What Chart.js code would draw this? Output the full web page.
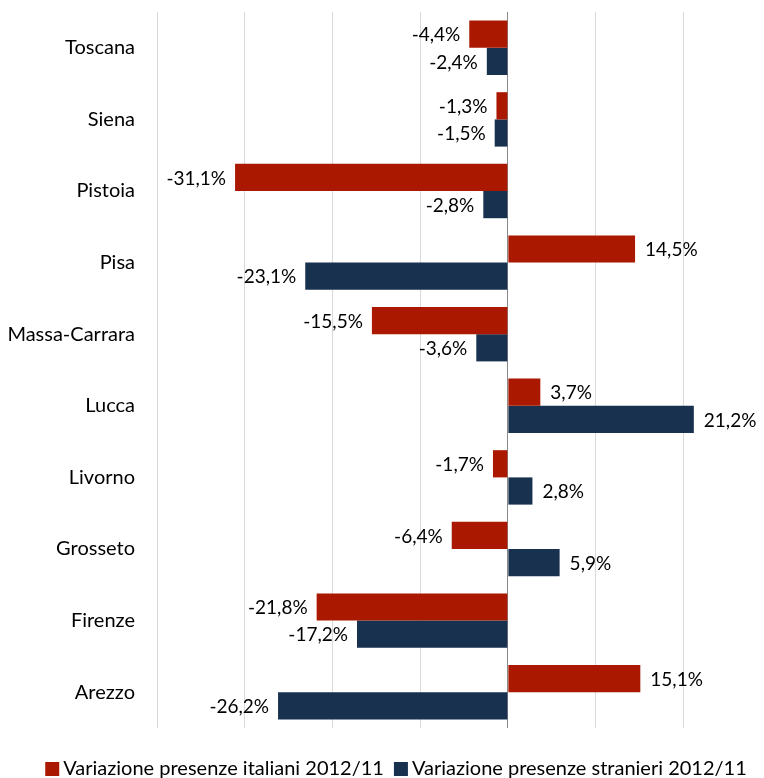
<!DOCTYPE html>
<html>
<head>
<meta charset="utf-8">
<script src="https://cdn.jsdelivr.net/npm/chart.js@4/dist/chart.umd.min.js"></script>
<style>
  html, body { margin: 0; padding: 0; background: #ffffff; }
  #wrap { width: 764px; height: 778px; }
</style>
</head>
<body>
<div id="wrap"><canvas id="c" width="764" height="778"></canvas></div>
<script>
// Province labels, top to bottom
const provinces = ['Toscana', 'Siena', 'Pistoia', 'Pisa', 'Massa-Carrara', 'Lucca', 'Livorno', 'Grosseto', 'Firenze', 'Arezzo'];
// Percentage change in arrivals, 2012 vs 2011
const italiani  = [-4.4, -1.3, -31.1, 14.5, -15.5, 3.7, -1.7, -6.4, -21.8, 15.1];
const stranieri = [-2.4, -1.5, -2.8, -23.1, -3.6, 21.2, 2.8, 5.9, -17.2, -26.2];
const seriesNames = ['Variazione presenze italiani 2012/11', 'Variazione presenze stranieri 2012/11'];

const FONT = 'Lato, "Open Sans", sans-serif';
const fmt = v => v.toFixed(1).replace('.', ',') + '%';

// Writes each bar's value just past its end
const valueLabels = {
  id: 'valueLabels',
  afterDatasetsDraw(chart) {
    const ctx = chart.ctx;
    ctx.save();
    ctx.font = '19px ' + FONT;
    ctx.fillStyle = '#000000';
    ctx.textBaseline = 'middle';
    chart.data.datasets.forEach((ds, i) => {
      chart.getDatasetMeta(i).data.forEach((bar, j) => {
        const v = ds.data[j];
        if (v < 0) {
          ctx.textAlign = 'right';
          ctx.fillText(fmt(v), bar.x - 9, bar.y + 1);
        } else {
          ctx.textAlign = 'left';
          ctx.fillText(fmt(v), bar.x + 10, bar.y + 1);
        }
      });
    });
    ctx.restore();
  }
};

// Compact legend row under the plot
const bottomLegend = {
  id: 'bottomLegend',
  afterDraw(chart) {
    const ctx = chart.ctx;
    const box = 14, gapText = 4, gapItem = 10;
    const yMid = 768, shift = 14;
    ctx.save();
    ctx.font = '20px ' + FONT;
    ctx.textBaseline = 'middle';
    ctx.textAlign = 'left';
    const items = chart.data.datasets.map(ds => ({
      text: ds.label, color: ds.backgroundColor, w: ctx.measureText(ds.label).width
    }));
    const total = items.reduce((s, it) => s + box + gapText + it.w, 0) + gapItem * (items.length - 1);
    let x = (chart.width - total) / 2 + shift;
    items.forEach(it => {
      ctx.fillStyle = it.color;
      ctx.fillRect(x, yMid - 6, box, box);
      x += box + gapText;
      ctx.fillStyle = '#000000';
      ctx.fillText(it.text, x, yMid + 1);
      x += it.w + gapItem;
    });
    ctx.restore();
  }
};

new Chart(document.getElementById('c'), {
  type: 'bar',
  data: {
    labels: provinces,
    datasets: [
      { label: seriesNames[0], data: italiani,  backgroundColor: '#AA1800' },
      { label: seriesNames[1], data: stranieri, backgroundColor: '#17314F' }
    ]
  },
  options: {
    indexAxis: 'y',
    responsive: false,
    animation: false,
    datasets: { bar: { categoryPercentage: 0.76, barPercentage: 1.0 } },
    layout: { padding: 0 },
    scales: {
      x: {
        min: -40,
        max: 29.2,
        ticks: { display: false, stepSize: 10 },
        border: { display: false },
        grid: {
          drawTicks: false,
          lineWidth: 1,
          color: c => {
            const v = c.tick ? c.tick.value : null;
            if (v === 0) return '#8a8a8a';
            if (v !== null && Math.abs(v % 10) < 1e-9) return '#d9d9d9';
            return 'rgba(0,0,0,0)';
          }
        },
        afterFit(scale) { scale.height = 50; }
      },
      y: {
        grid: { display: false, drawTicks: true, tickLength: 22 },
        border: { display: false },
        ticks: {
          color: '#000000',
          font: { family: FONT, size: 20 },
          padding: 0
        },
        afterFit(scale) { scale.width = 157; }
      }
    },
    plugins: {
      legend: { display: false },
      tooltip: { enabled: false }
    }
  },
  plugins: [valueLabels, bottomLegend]
});
</script>
</body>
</html>
